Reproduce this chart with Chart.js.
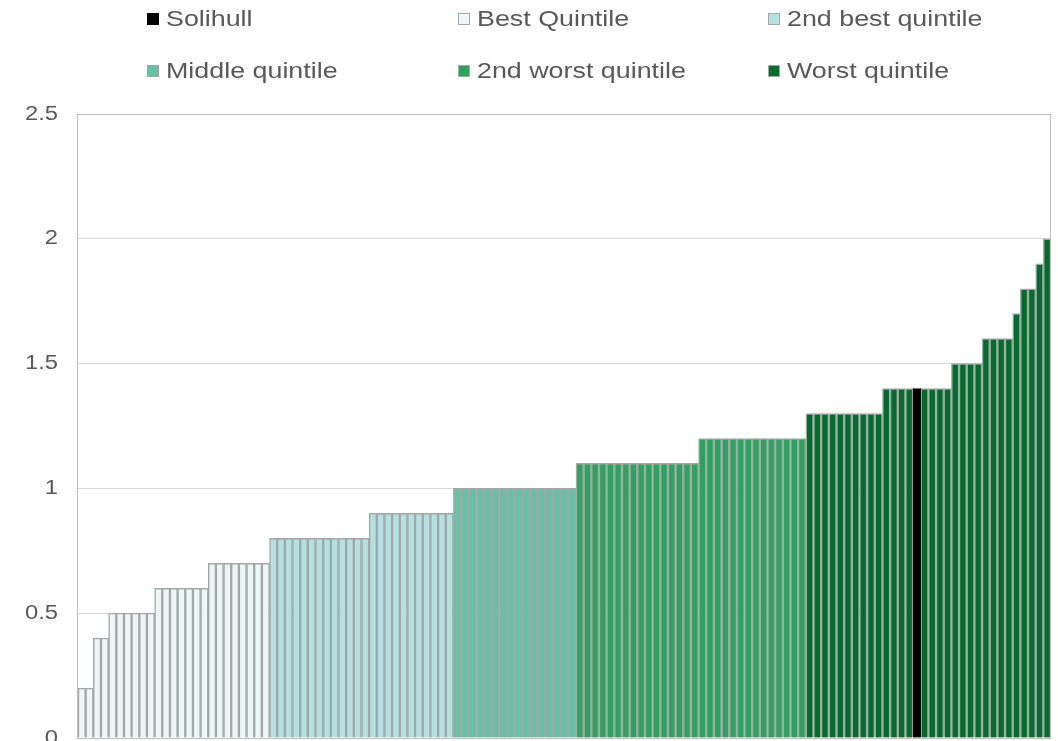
<!DOCTYPE html>
<html>
<head>
<meta charset="utf-8">
<script src="https://cdn.jsdelivr.net/npm/chart.js@4/dist/chart.umd.min.js"></script>
<style>
  html, body { margin: 0; padding: 0; background: #fff; overflow: hidden; }
  #wrap { position: absolute; left: 0; top: 0; width: 1058px; height: 770px; }
  #legend { position: absolute; left: 0; top: 0; width: 1058px; height: 100px; font-family: "Liberation Sans", Arial, sans-serif; font-size: 22px; color: #595959; z-index: 2; }
  .item { position: absolute; display: flex; align-items: center; white-space: nowrap; }
  .box { width: 10px; height: 10px; border: 1px solid #A6A6A6; margin-right: 7px; flex: none; }
  .txt { display: inline-block; transform: scaleX(1.22); transform-origin: left center; }
</style>
</head>
<body>
<div id="legend"></div>
<div id="wrap"><canvas id="c" width="1058" height="770"></canvas></div>
<script>
// ---- Data (sorted ascending) ----
const bestQuintile = [0.2, 0.2, 0.4, 0.4, 0.5, 0.5, 0.5, 0.5, 0.5, 0.5,
  0.6, 0.6, 0.6, 0.6, 0.6, 0.6, 0.6, 0.7, 0.7, 0.7, 0.7, 0.7, 0.7, 0.7, 0.7];
const secondBestQuintile = [0.8, 0.8, 0.8, 0.8, 0.8, 0.8, 0.8, 0.8, 0.8, 0.8, 0.8, 0.8, 0.8,
  0.9, 0.9, 0.9, 0.9, 0.9, 0.9, 0.9, 0.9, 0.9, 0.9, 0.9];
const middleQuintile = [1.0, 1.0, 1.0, 1.0, 1.0, 1.0, 1.0, 1.0, 1.0, 1.0, 1.0, 1.0, 1.0, 1.0, 1.0, 1.0];
const secondWorstQuintile = [1.1, 1.1, 1.1, 1.1, 1.1, 1.1, 1.1, 1.1, 1.1, 1.1, 1.1, 1.1, 1.1, 1.1, 1.1, 1.1,
  1.2, 1.2, 1.2, 1.2, 1.2, 1.2, 1.2, 1.2, 1.2, 1.2, 1.2, 1.2, 1.2, 1.2];
const worstQuintileBeforeSolihull = [1.3, 1.3, 1.3, 1.3, 1.3, 1.3, 1.3, 1.3, 1.3, 1.3, 1.4, 1.4, 1.4, 1.4];
const solihull = [1.4];
const worstQuintileAfterSolihull = [1.4, 1.4, 1.4, 1.4, 1.5, 1.5, 1.5, 1.5, 1.6, 1.6, 1.6, 1.6, 1.7, 1.8, 1.8, 1.9, 2.0];
const yTicks = [0, 0.5, 1, 1.5, 2, 2.5];

const seriesNames = ["Solihull", "Best Quintile", "2nd best quintile", "Middle quintile", "2nd worst quintile", "Worst quintile"];
const seriesColors = ["#000000", "#EBF7F9", "#B2E2E2", "#66C2A4", "#2CA25F", "#006D2C"];

// ---- Build datasets ----
const groups = [
  { s: 1, vals: bestQuintile },
  { s: 2, vals: secondBestQuintile },
  { s: 3, vals: middleQuintile },
  { s: 4, vals: secondWorstQuintile },
  { s: 5, vals: worstQuintileBeforeSolihull },
  { s: 0, vals: solihull },
  { s: 5, vals: worstQuintileAfterSolihull }
];
const order = [];
groups.forEach(g => g.vals.forEach(v => order.push({ s: g.s, v })));
const labels = order.map((_, i) => String(i + 1));
const datasets = seriesNames.map((name, s) => ({
  label: name,
  data: order.map(o => (o.s === s ? o.v : null)),
  backgroundColor: seriesColors[s],
  borderColor: s === 0 ? "#000000" : "#A6A6A6",
  borderWidth: 1.5,
  borderSkipped: "bottom",
  categoryPercentage: 1,
  barPercentage: 1
}));

// ---- HTML legend ----
const legendPos = [[147, 19], [458, 19], [768, 19], [147, 71], [458, 71], [768, 71]];
const legend = document.getElementById("legend");
seriesNames.forEach((name, i) => {
  const d = document.createElement("div");
  d.className = "item";
  d.style.left = legendPos[i][0] + "px";
  d.style.top = (legendPos[i][1] - 13) + "px";
  d.style.height = "26px";
  const b = document.createElement("span");
  b.className = "box";
  b.style.background = seriesColors[i];
  if (i === 0) b.style.borderColor = "#000";
  const t = document.createElement("span");
  t.className = "txt";
  t.textContent = name;
  d.appendChild(b); d.appendChild(t);
  legend.appendChild(d);
});

const framePlugin = {
  id: "frame",
  afterDatasetsDraw(chart) {
    const a = chart.chartArea, ctx = chart.ctx;
    ctx.save();
    ctx.strokeStyle = "#BFBFBF";
    ctx.lineWidth = 1;
    ctx.strokeRect(Math.round(a.left) - 0.5, Math.round(a.top) + 0.5, Math.round(a.right - a.left), Math.round(a.bottom - a.top));
    ctx.restore();
  }
};

// stretch y tick labels horizontally around their right-aligned anchor, like the reference
const stretchPlugin = {
  id: "stretchTicks",
  beforeDraw(chart) {
    const y = chart.scales.y;
    if (!y || y._stretched) return;
    y._stretched = true;
    const orig = y.drawLabels;
    y.drawLabels = function (area) {
      const ctx = this.ctx;
      const ax = this.right - this.options.ticks.padding;
      ctx.save();
      ctx.translate(ax, 0);
      ctx.scale(1.19, 1);
      ctx.translate(-ax, 0);
      orig.call(this, area);
      ctx.restore();
    };
  }
};

new Chart(document.getElementById("c"), {
  type: "bar",
  data: { labels, datasets },
  plugins: [framePlugin, stretchPlugin],
  options: {
    responsive: false,
    animation: false,
    layout: { padding: { top: 114, right: 7, bottom: 10, left: 0 } },
    plugins: { legend: { display: false }, tooltip: { enabled: false } },
    scales: {
      x: {
        stacked: true,
        ticks: { display: false },
        grid: { display: false },
        border: { display: false },
        afterFit(s) { s.height = 0; }
      },
      y: {
        stacked: true,
        min: 0, max: 2.5,
        afterBuildTicks(s) { s.ticks = yTicks.map(v => ({ value: v })); },
        ticks: {
          padding: 20,
          color: "#595959",
          font: { family: "'Liberation Sans', Arial, sans-serif", size: 20 },
          callback: v => String(v)
        },
        grid: { color: "#D9D9D9", drawTicks: false, lineWidth: 1 },
        border: { display: false },
        afterFit(s) { s.width = 78; }
      }
    }
  }
});
</script>
</body>
</html>
